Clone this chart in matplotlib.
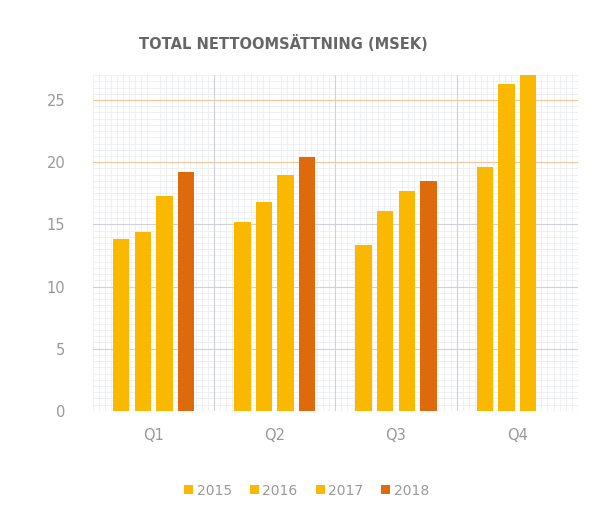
import numpy as np
import matplotlib.pyplot as plt
from matplotlib.ticker import MultipleLocator

quarters = ["Q1", "Q2", "Q3", "Q4"]
years = ["2015", "2016", "2017", "2018"]
v2015 = [13.8, 15.2, 13.3, 19.6]
v2016 = [14.4, 16.8, 16.1, 26.3]
v2017 = [17.3, 19.0, 17.7, 27.0]
v2018 = [19.2, 20.4, 18.5, np.nan]
series = [v2015, v2016, v2017, v2018]
colors = ["#FBB800", "#FBB800", "#FBB800", "#DF6A0C"]

fig = plt.figure(figsize=(5.92, 5.11), dpi=100)
ax = fig.add_axes([0.157, 0.196, 0.819, 0.657])

x = np.arange(len(quarters))
w = 0.135; step = 0.178
for i, (vals, c, yr) in enumerate(zip(series, colors, years)):
    ax.bar(x + (i - 1.5) * step, vals, width=w, color=c, label=yr, zorder=3)

ax.set_xlim(-0.5, 3.5); ax.set_ylim(0, 27)
ax.set_xticks(x); ax.set_xticklabels(quarters)
ax.set_yticks([0, 5, 10, 15, 20, 25])
ax.xaxis.set_minor_locator(MultipleLocator(0.05))
ax.yaxis.set_minor_locator(MultipleLocator(0.5))
ax.grid(which="minor", color="#eceef3", lw=0.6)
for y in [5, 10, 15]:
    ax.axhline(y, color="#cfd2d8", lw=0.8, zorder=2)
for y in [20, 25]:
    ax.axhline(y, color="#f4c49a", lw=0.8, zorder=2)
for xv in [0.5, 1.5, 2.5, 3.5]:
    ax.axvline(xv, color="#d0d0d6", lw=0.8, zorder=2)
for s in ax.spines.values(): s.set_visible(False)
ax.axhline(0, color="#dddddd", lw=0.8, zorder=2)
ax.tick_params(which="both", length=0, colors="#999999", labelsize=10.5)
ax.tick_params(axis="x", pad=12)
ax.tick_params(axis="y", pad=20)

fig.text(0.478, 0.915, "TOTAL NETTOOMSÄTTNING (MSEK)", ha="center", va="center",
         fontsize=10.5, color="#666666", fontweight="semibold")
fig.legend(loc="center", bbox_to_anchor=(0.518, 0.04), ncol=4, frameon=False,
           handlelength=0.65, handleheight=0.65, handletextpad=0.25, columnspacing=1.3,
           labelcolor="#999999", fontsize=10)
fig.savefig("out.png", dpi=100)
